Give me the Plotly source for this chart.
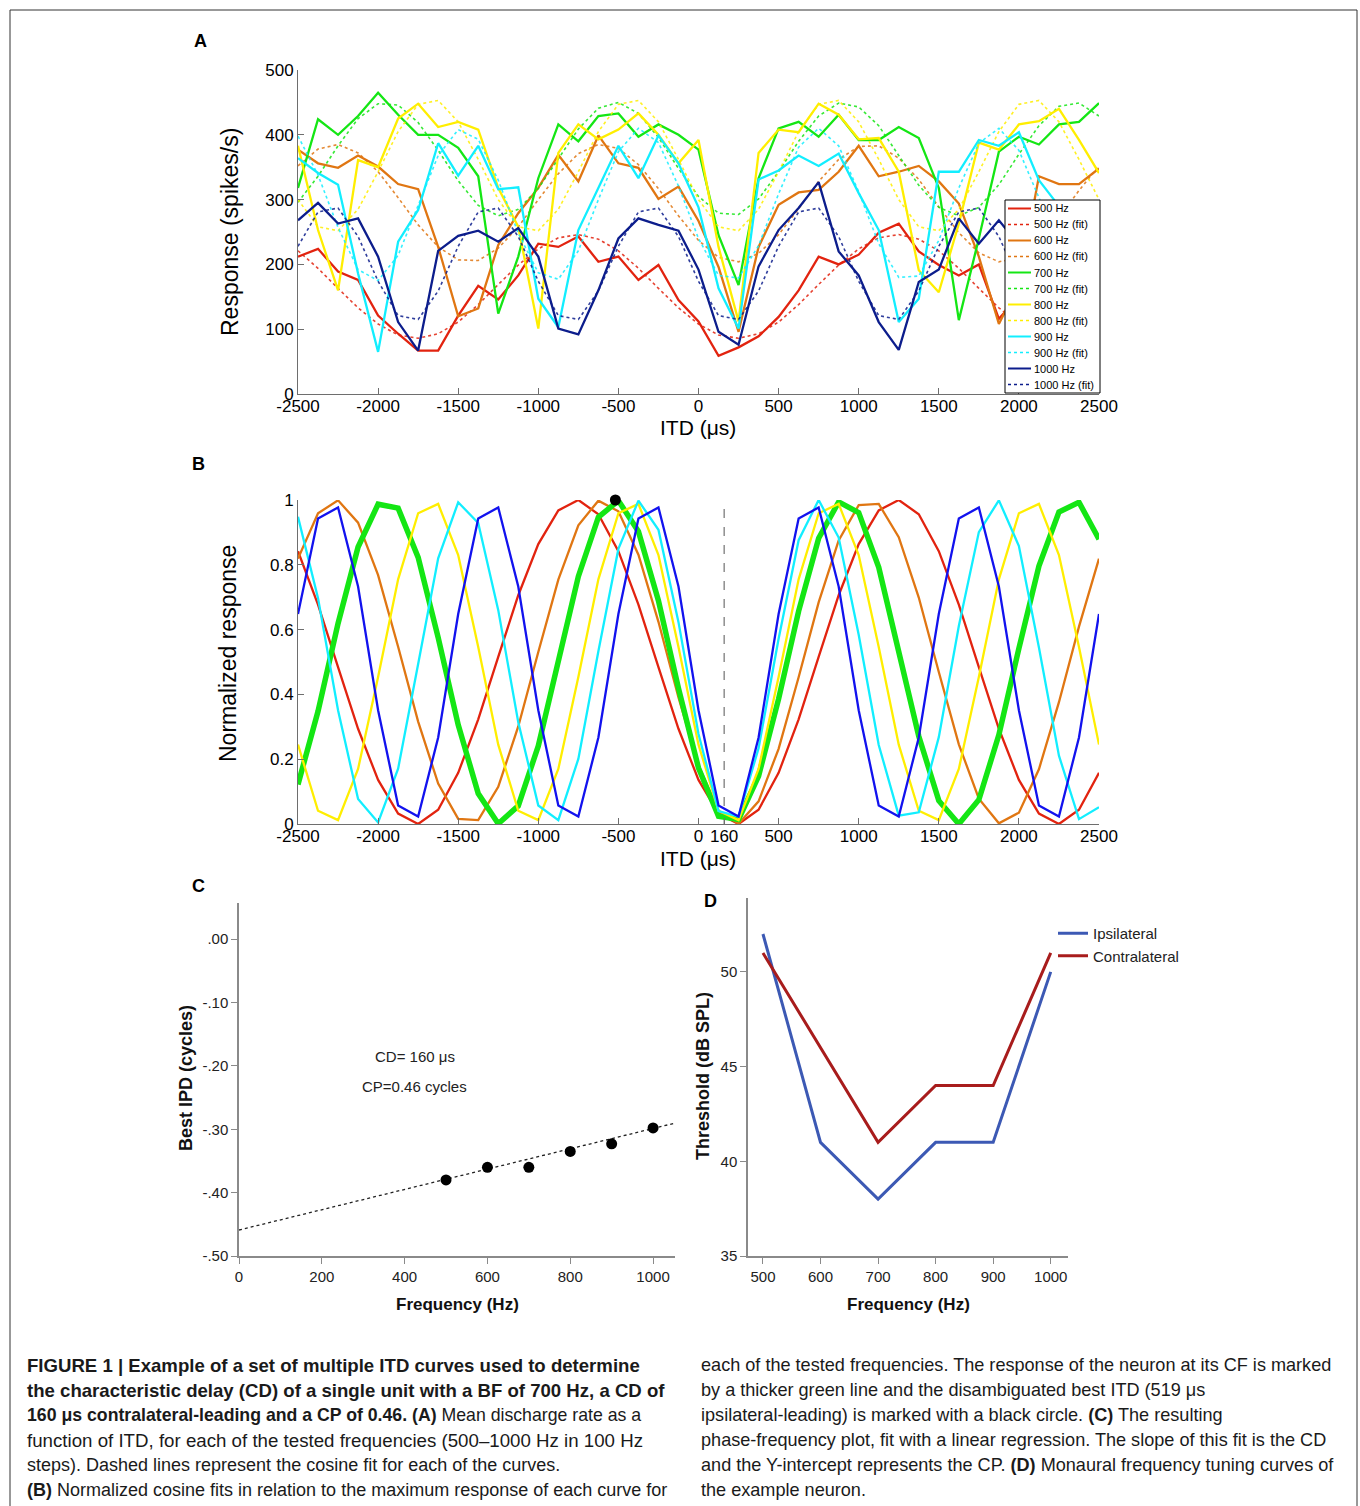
import plotly.graph_objects as go

# ---------------- data ----------------
itd = [-2500, -2375, -2250, -2125, -2000, -1875, -1750, -1625, -1500, -1375,
       -1250, -1125, -1000, -875, -750, -625, -500, -375, -250, -125,
       0, 125, 250, 375, 500, 625, 750, 875, 1000, 1125,
       1250, 1375, 1500, 1625, 1750, 1875, 2000, 2125, 2250, 2375, 2500]

freq_labels = ["500 Hz", "600 Hz", "700 Hz", "800 Hz", "900 Hz", "1000 Hz"]

# tick labels (MATLAB style with plain hyphens)
itd_ticks = [-2500, -2000, -1500, -1000, -500, 0, 500, 1000, 1500, 2000, 2500]
itd_ticklabels = ["-2500", "-2000", "-1500", "-1000", "-500", "0", "500", "1000", "1500", "2000", "2500"]
itd_ticks_b = [-2500, -2000, -1500, -1000, -500, 0, 160, 500, 1000, 1500, 2000, 2500]
itd_ticklabels_b = ["-2500", "-2000", "-1500", "-1000", "-500", "0", "160", "500", "1000", "1500", "2000", "2500"]

# Panel A: mean discharge rate (spikes/s)
resp_500 = [212, 224, 189, 176, 121, 93, 67, 67, 121, 167, 146, 183, 232, 227, 243, 204, 212, 176, 199, 145,
            112, 59, 72, 89, 119, 160, 212, 200, 215, 249, 263, 220, 199, 183, 200, 116, 150, 190, 210, 220, 215]
resp_600 = [377, 356, 349, 368, 351, 324, 316, 227, 120, 132, 230, 279, 318, 369, 328, 399, 356, 349, 301, 320,
            267, 196, 96, 227, 292, 311, 315, 343, 383, 336, 343, 352, 328, 294, 212, 108, 170, 336, 324, 324, 348]
resp_700 = [318, 424, 400, 429, 465, 431, 400, 400, 380, 336, 124, 212, 333, 416, 390, 429, 433, 397, 416, 400,
            377, 245, 168, 333, 410, 420, 397, 431, 392, 392, 412, 395, 318, 114, 240, 374, 397, 385, 416, 420, 449]
resp_800 = [383, 253, 160, 361, 350, 425, 448, 412, 420, 408, 318, 258, 101, 372, 416, 393, 408, 433, 400, 356,
            392, 227, 112, 372, 408, 404, 448, 431, 393, 395, 343, 191, 157, 263, 388, 377, 416, 421, 440, 392, 341]
resp_900 = [364, 341, 323, 186, 65, 235, 284, 387, 337, 383, 316, 319, 147, 103, 253, 318, 383, 333, 399, 356,
            288, 163, 101, 331, 345, 368, 352, 371, 310, 253, 111, 147, 343, 343, 392, 383, 404, 330, 290, 260, 290]
resp_1000 = [268, 295, 263, 271, 212, 111, 67, 221, 244, 252, 235, 256, 212, 101, 92, 160, 240, 271, 261, 252,
             192, 96, 76, 197, 253, 287, 327, 220, 183, 111, 68, 173, 192, 271, 232, 268, 230, 245, 230, 250, 270]

fit_500 = [221, 194, 163, 133, 108, 91, 86, 93, 111, 138, 169, 199, 224, 241, 246, 239, 221, 194, 163, 133,
           108, 91, 86, 93, 111, 138, 169, 199, 224, 241, 246, 239, 221, 194, 163, 133, 108, 91, 86, 93, 111]
fit_600 = [352, 378, 385, 372, 343, 303, 261, 227, 207, 206, 225, 258, 300, 340, 371, 385, 379, 354, 317, 275,
           237, 211, 204, 217, 246, 286, 328, 362, 382, 383, 364, 331, 289, 249, 218, 204, 210, 235, 272, 314, 352]
fit_700 = [296, 336, 383, 425, 448, 446, 419, 376, 329, 291, 275, 285, 317, 363, 409, 441, 450, 433, 396, 348,
           305, 279, 277, 301, 343, 390, 429, 449, 443, 414, 369, 322, 288, 275, 288, 323, 370, 414, 444, 449, 429]
fit_800 = [300, 258, 252, 285, 343, 405, 447, 453, 420, 362, 300, 258, 252, 285, 343, 405, 447, 453, 420, 362,
           300, 258, 252, 285, 343, 405, 447, 453, 420, 362, 300, 258, 252, 285, 343, 405, 447, 453, 420, 362, 300]
fit_900 = [398, 338, 257, 192, 175, 214, 291, 368, 408, 393, 330, 248, 187, 177, 221, 300, 374, 410, 388, 321,
           240, 183, 179, 229, 309, 381, 410, 383, 312, 232, 180, 182, 237, 318, 387, 410, 376, 303, 224, 178, 186]
fit_1000 = [228, 281, 287, 243, 174, 121, 115, 159, 228, 281, 287, 243, 174, 121, 115, 159, 228, 281, 287, 243,
            174, 121, 115, 159, 228, 281, 287, 243, 174, 121, 115, 159, 228, 281, 287, 243, 174, 121, 115, 159, 228]

# Panel B: normalized cosine fits
norm_500 = [0.842, 0.677, 0.484, 0.294, 0.136, 0.032, 0.000, 0.044, 0.158, 0.323, 0.516, 0.706, 0.864, 0.968,
            1.000, 0.956, 0.842, 0.677, 0.484, 0.294, 0.136, 0.032, 0.000, 0.044, 0.158, 0.323, 0.516, 0.706,
            0.864, 0.968, 1.000, 0.956, 0.842, 0.677, 0.484, 0.294, 0.136, 0.032, 0.000, 0.044, 0.158]
norm_600 = [0.819, 0.959, 0.999, 0.930, 0.768, 0.547, 0.316, 0.125, 0.016, 0.012, 0.115, 0.301, 0.531, 0.754,
            0.922, 0.998, 0.965, 0.831, 0.624, 0.391, 0.181, 0.041, 0.001, 0.070, 0.232, 0.453, 0.684, 0.875,
            0.984, 0.988, 0.885, 0.699, 0.469, 0.246, 0.078, 0.002, 0.035, 0.169, 0.376, 0.609, 0.819]
norm_700 = [0.122, 0.348, 0.619, 0.855, 0.987, 0.975, 0.823, 0.575, 0.306, 0.094, 0.001, 0.056, 0.241, 0.503,
            0.764, 0.947, 0.998, 0.903, 0.689, 0.419, 0.173, 0.024, 0.014, 0.148, 0.386, 0.657, 0.882, 0.994,
            0.961, 0.792, 0.537, 0.271, 0.072, 0.000, 0.075, 0.275, 0.542, 0.796, 0.963, 0.993, 0.879]
norm_800 = [0.245, 0.041, 0.012, 0.170, 0.454, 0.755, 0.959, 0.988, 0.830, 0.546, 0.245, 0.041, 0.012, 0.170,
            0.454, 0.755, 0.959, 0.988, 0.830, 0.546, 0.245, 0.041, 0.012, 0.170, 0.454, 0.755, 0.959, 0.988,
            0.830, 0.546, 0.245, 0.041, 0.012, 0.170, 0.454, 0.755, 0.959, 0.988, 0.830, 0.546, 0.245]
norm_900 = [0.948, 0.697, 0.351, 0.077, 0.005, 0.171, 0.494, 0.820, 0.993, 0.929, 0.660, 0.314, 0.057, 0.012,
            0.201, 0.533, 0.849, 0.998, 0.908, 0.623, 0.278, 0.040, 0.023, 0.234, 0.572, 0.876, 1.000, 0.884,
            0.584, 0.244, 0.026, 0.036, 0.268, 0.611, 0.901, 0.999, 0.858, 0.545, 0.211, 0.015, 0.052]
norm_1000 = [0.648, 0.943, 0.977, 0.733, 0.351, 0.057, 0.023, 0.267, 0.648, 0.943, 0.977, 0.733, 0.351, 0.057,
             0.023, 0.267, 0.648, 0.943, 0.977, 0.733, 0.351, 0.057, 0.023, 0.267, 0.648, 0.943, 0.977, 0.733,
             0.351, 0.057, 0.023, 0.267, 0.648, 0.943, 0.977, 0.733, 0.351, 0.057, 0.023, 0.267, 0.648]

cd_us = 160            # characteristic delay (dashed line in B)
best_itd_cf = -519     # disambiguated best ITD at CF (black circle)
best_norm_cf = 1.0

# Panel C: phase-frequency plot
freq_c = [500, 600, 700, 800, 900, 1000]
best_ipd = [-0.38, -0.36, -0.36, -0.335, -0.323, -0.298]
fit_freq = [0, 1055]
fit_ipd = [-0.459, -0.290]
cd_text = "CD= 160 μs"
cp_text = "CP=0.46 cycles"

# Panel D: monaural tuning curves
freq_d = [500, 600, 700, 800, 900, 1000]
thr_ipsi = [52, 41, 38, 41, 41, 50]
thr_contra = [51, 46, 41, 44, 44, 51]

caption_left = [
    "<b>FIGURE 1 | Example of a set of multiple ITD curves used to determine</b>",
    "<b>the characteristic delay (CD) of a single unit with a BF of 700 Hz, a CD of</b>",
    "<b>160 μs contralateral-leading and a CP of 0.46. (A)</b> Mean discharge rate as a",
    "function of ITD, for each of the tested frequencies (500–1000 Hz in 100 Hz",
    "steps). Dashed lines represent the cosine fit for each of the curves.",
    "<b>(B)</b> Normalized cosine fits in relation to the maximum response of each curve for",
]
caption_right = [
    "each of the tested frequencies. The response of the neuron at its CF is marked",
    "by a thicker green line and the disambiguated best ITD (519 μs",
    "ipsilateral-leading) is marked with a black circle. <b>(C)</b> The resulting",
    "phase-frequency plot, fit with a linear regression. The slope of this fit is the CD",
    "and the Y-intercept represents the CP. <b>(D)</b> Monaural frequency tuning curves of",
    "the example neuron.",
]

# ---------------- styling ----------------
W, H = 1360, 1506
FONT = "Liberation Sans, Arial, Helvetica, sans-serif"


def px(x):
    return x / W


def py(y):
    return 1 - y / H


colors_a = ["#e2230f", "#e07612", "#14e614", "#ffee00", "#12eeff", "#0c1d8c"]
colors_b = ["#e2230f", "#e07612", "#14e614", "#ffee00", "#12eeff", "#1212ee"]

resp = [resp_500, resp_600, resp_700, resp_800, resp_900, resp_1000]
fits = [fit_500, fit_600, fit_700, fit_800, fit_900, fit_1000]
norms = [norm_500, norm_600, norm_700, norm_800, norm_900, norm_1000]

fig = go.Figure()

# Panel A
for lab, r, f, c in zip(freq_labels, resp, fits, colors_a):
    fig.add_trace(go.Scatter(x=itd, y=r, mode="lines", name=lab,
                             line=dict(color=c, width=2.3), xaxis="x", yaxis="y",
                             showlegend=False))
    fig.add_trace(go.Scatter(x=itd, y=f, mode="lines", name=lab + " (fit)",
                             line=dict(color=c, width=1.6, dash="dot"), xaxis="x", yaxis="y",
                             showlegend=False, opacity=0.85))

# Panel B
fig.add_trace(go.Scatter(x=[cd_us, cd_us], y=[0, 1], mode="lines",
                         line=dict(color="#555555", width=1, dash="dash"),
                         xaxis="x2", yaxis="y2", showlegend=False))
for lab, n, c in zip(freq_labels, norms, colors_b):
    w = 5.5 if lab == "700 Hz" else 2.3
    fig.add_trace(go.Scatter(x=itd, y=n, mode="lines", name=lab,
                             line=dict(color=c, width=w), xaxis="x2", yaxis="y2",
                             showlegend=False))
fig.add_trace(go.Scatter(x=[best_itd_cf], y=[best_norm_cf], mode="markers",
                         marker=dict(color="black", size=11), xaxis="x2", yaxis="y2",
                         showlegend=False, cliponaxis=False))

# Panel C
fig.add_trace(go.Scatter(x=fit_freq, y=fit_ipd, mode="lines",
                         line=dict(color="#222222", width=1.3, dash="dot"),
                         xaxis="x3", yaxis="y3", showlegend=False))
fig.add_trace(go.Scatter(x=freq_c, y=best_ipd, mode="markers",
                         marker=dict(color="black", size=11),
                         xaxis="x3", yaxis="y3", showlegend=False))

# Panel D
fig.add_trace(go.Scatter(x=freq_d, y=thr_ipsi, mode="lines", name="Ipsilateral",
                         line=dict(color="#3c59b4", width=3), xaxis="x4", yaxis="y4",
                         legend="legend2", showlegend=True))
fig.add_trace(go.Scatter(x=freq_d, y=thr_contra, mode="lines", name="Contralateral",
                         line=dict(color="#a81c1c", width=3), xaxis="x4", yaxis="y4",
                         legend="legend2", showlegend=True))

matlab_axis = dict(showline=True, linecolor="#6e6e6e", linewidth=1, ticks="inside",
                   ticklen=6, tickcolor="#6e6e6e", showgrid=False, zeroline=False,
                   automargin=False,
                   tickfont=dict(family=FONT, size=17, color="black"), mirror=False)
spss_axis = dict(showline=True, linecolor="#8a8a8a", linewidth=1.5, ticks="outside",
                 ticklen=6, tickcolor="#8a8a8a", showgrid=False, zeroline=False,
                 automargin=False,
                 tickfont=dict(family=FONT, size=15, color="#222222"))

shapes = [dict(type="rect", xref="paper", yref="paper", x0=px(10), x1=px(1357),
               y0=py(1530), y1=py(10), line=dict(color="#333333", width=1))]

# manual legend box for panel A (matches the compact MATLAB legend)
shapes.append(dict(type="rect", xref="paper", yref="paper", layer="above",
                   x0=px(1005), x1=px(1100), y0=py(393), y1=py(200),
                   fillcolor="white", line=dict(color="black", width=1)))

layout = dict(
    template="none",
    width=W, height=H, autosize=False,
    margin=dict(l=0, r=0, t=0, b=0, pad=0),
    paper_bgcolor="white", plot_bgcolor="white",
    font=dict(family=FONT, color="black"),
    showlegend=True,
    xaxis=dict(matlab_axis, domain=[px(298), px(1099)], anchor="y", range=[-2500, 2500],
               tickvals=itd_ticks, ticktext=itd_ticklabels, ticklabelstandoff=-3),
    yaxis=dict(matlab_axis, domain=[py(394), py(70)], anchor="x", range=[0, 500],
               tickvals=[0, 100, 200, 300, 400, 500]),
    xaxis2=dict(matlab_axis, domain=[px(298), px(1099)], anchor="y2", range=[-2500, 2500],
                tickvals=itd_ticks_b, ticktext=itd_ticklabels_b, ticklabelstandoff=-3),
    yaxis2=dict(matlab_axis, domain=[py(824), py(500)], anchor="x2", range=[0, 1],
                tickvals=[0, 0.2, 0.4, 0.6, 0.8, 1], ticktext=["0", "0.2", "0.4", "0.6", "0.8", "1"]),
    xaxis3=dict(spss_axis, domain=[px(239), px(675)], anchor="y3", range=[0, 1053],
                tickvals=[0, 200, 400, 600, 800, 1000]),
    yaxis3=dict(spss_axis, domain=[py(1256), py(903)], anchor="x3", range=[-0.5, 0.057],
                tickvals=[0, -0.1, -0.2, -0.3, -0.4, -0.5],
                ticktext=[".00", "-.10", "-.20", "-.30", "-.40", "-.50"]),
    xaxis4=dict(spss_axis, domain=[px(748), px(1068)], anchor="y4", range=[474, 1030],
                tickvals=[500, 600, 700, 800, 900, 1000]),
    yaxis4=dict(spss_axis, domain=[py(1256), py(898)], anchor="x4", range=[35, 53.9],
                tickvals=[35, 40, 45, 50]),
    legend2=dict(x=px(1053), xanchor="left", y=py(917), yanchor="top",
                 bgcolor="rgba(0,0,0,0)", borderwidth=0, tracegroupgap=0,
                 font=dict(family=FONT, size=15, color="#222222"), itemwidth=30),
)

ann = []


def add_text(text, x, y, size, angle=0, bold=False, xanchor="center", color="black",
             xref="paper", yref="paper"):
    ann.append(dict(text=("<b>%s</b>" % text) if bold else text, x=x, y=y, xref=xref,
                    yref=yref, showarrow=False, textangle=angle, xanchor=xanchor,
                    yanchor="middle", font=dict(family=FONT, size=size, color=color)))


# legend entries for panel A
row = 0
for lab, c in zip(freq_labels, colors_a):
    for suffix, dash, lw in (("", "solid", 2), (" (fit)", "dot", 1.5)):
        yc = 208.5 + 16 * row
        shapes.append(dict(type="line", xref="paper", yref="paper", layer="above",
                           x0=px(1008), x1=px(1031), y0=py(yc), y1=py(yc),
                           line=dict(color=c, width=lw, dash=dash)))
        add_text(lab + suffix, px(1032), py(yc), 11, xanchor="left")
        row += 1

# panel letters
add_text("A", px(200), py(41), 18, bold=True)
add_text("B", px(198), py(464), 18, bold=True)
add_text("C", px(198), py(886), 18, bold=True)
add_text("D", px(710), py(901), 18, bold=True)

# axis titles
add_text("Response (spikes/s)", px(230), py(232), 23, angle=-90)
add_text("ITD (μs)", px(698), py(428), 21)
add_text("Normalized response", px(228), py(653), 23, angle=-90)
add_text("ITD (μs)", px(698), py(858), 21)
add_text("Best IPD (cycles)", px(186), py(1078), 18, angle=-90, bold=True, color="#111111")
add_text("Frequency (Hz)", px(457), py(1304), 17, bold=True, color="#111111")
add_text("Threshold (dB SPL)", px(703), py(1076), 18, angle=-90, bold=True, color="#111111")
add_text("Frequency (Hz)", px(908), py(1304), 17, bold=True, color="#111111")

# panel C text
add_text(cd_text, 425, -0.185, 15, xref="x3", yref="y3", color="#222222")
add_text(cp_text, 425, -0.232, 15, xref="x3", yref="y3", color="#222222")

# caption (two columns)
left_sizes = [18.6, 18.6, 17.7, 18.7, 18.0, 18.0]
for i, (line, sz) in enumerate(zip(caption_left, left_sizes)):
    add_text(line, px(25), py(1365 + 25 * i), sz, xanchor="left", color="#1a1a1a")
for i, line in enumerate(caption_right):
    add_text(line, px(699), py(1365 + 25 * i), 18.1, xanchor="left", color="#1a1a1a")

layout["annotations"] = ann
layout["shapes"] = shapes
fig.update_layout(**layout)

fig.write_html("out.html")
